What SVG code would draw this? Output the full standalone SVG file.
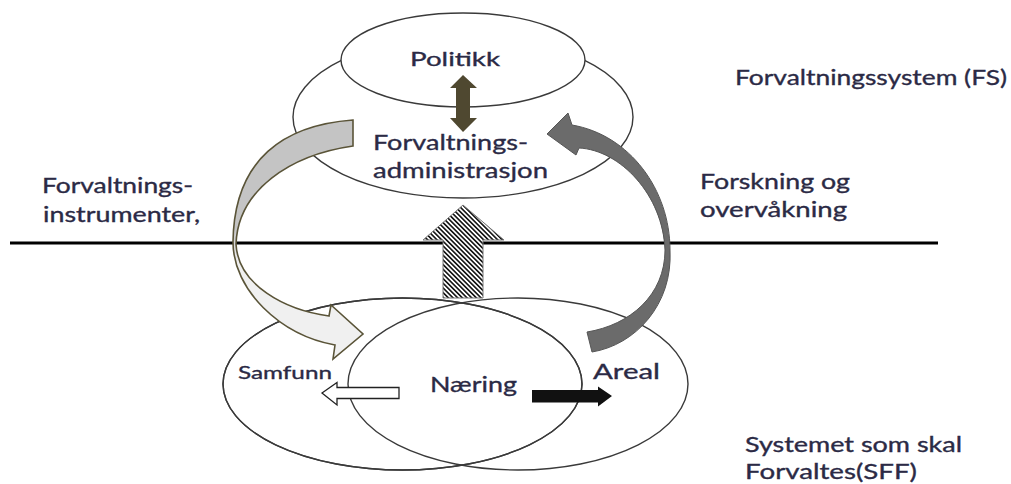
<svg xmlns="http://www.w3.org/2000/svg" width="1011" height="484" viewBox="0 0 1011 484">
<style>
.ell{fill:#fff;stroke:#3a3a3a;stroke-width:1.4}
.ellnf{fill:none;stroke:#3a3a3a;stroke-width:1.4}
.t{font-family:Lato,"Liberation Sans",sans-serif;fill:#2b2a45;stroke:#2b2a45;stroke-width:0.35}
</style>
<defs>
<pattern id="hatch" patternUnits="userSpaceOnUse" width="3.3" height="3.3" patternTransform="rotate(-45)">
<rect width="3.3" height="3.3" fill="#fff"/>
<line x1="0.8" y1="0" x2="0.8" y2="3.3" stroke="#111" stroke-width="1.6"/>
</pattern>
<linearGradient id="lgrad" gradientUnits="userSpaceOnUse" x1="0" y1="228" x2="0" y2="262">
<stop offset="0" stop-color="#c4c4c4"/>
<stop offset="1" stop-color="#f0f0f0"/>
</linearGradient>
</defs>
<rect width="1011" height="484" fill="#fff"/>

<g id="bottom-left-ellipse"><ellipse class="ell" cx="402.5" cy="384" rx="179.5" ry="86"/></g>
<g id="bottom-right-ellipse"><ellipse class="ellnf" cx="518" cy="384" rx="170" ry="86"/></g>
<g id="bottom-left-ellipse-outline"><ellipse class="ellnf" cx="402.5" cy="384" rx="179.5" ry="86"/></g>

<g id="forvaltningsadministrasjon"><ellipse class="ell" cx="463" cy="117" rx="170" ry="81"/></g>
<g id="politikk"><ellipse class="ell" cx="463" cy="60" rx="122" ry="47"/>
<text class="t" x="455" y="66" font-size="20" text-anchor="middle" textLength="90" lengthAdjust="spacingAndGlyphs">Politikk</text></g>

<g id="divider"><line x1="10" y1="243" x2="938" y2="243" stroke="#000" stroke-width="3"/></g>

<g id="connectors">
<path d="M463,75 L477,88 L470,88 L470,118 L477,118 L463,132 L450,118 L456,118 L456,88 L450,88 Z" fill="#4f4830"/>
<path d="M443,298 L443,240 L423,240 L463,205 L504,240 L483,240 L483,298 Z" fill="url(#hatch)" stroke="#777" stroke-width="1"/>
<path d="M353,120 C285,125 234,158 233,242 C233,290 280,335 335,345 L333,359 L363,334 L331,305 L329,316 C285,310 238,285 236,244 C238,190 290,155 353,146 Z" fill="url(#lgrad)" stroke="#5a5438" stroke-width="1.6" stroke-linejoin="miter"/>
<path d="M587,332 L592,352 C635,345 673,305 670,250 C670,190 630,135 572,125 L568,113 L547,134 L576,155 L579,148 C620,150 663,195 665,250 C665,295 630,325 587,332 Z" fill="#6b6b6b" stroke="#555" stroke-width="1"/>
<path d="M399,387.5 L337,387.5 L337,382.5 L322,393 L337,405 L337,398.5 L399,398.5 Z" fill="#fff" stroke="#222" stroke-width="1.3"/>
<path d="M532,390 L598,390 L598,386.5 L612,396 L598,406.5 L598,402.5 L532,402.5 Z" fill="#111"/>
</g>

<g id="labels">
<text class="t" x="373" y="150" font-size="22" textLength="155" lengthAdjust="spacingAndGlyphs">Forvaltnings-</text>
<text class="t" x="373" y="178" font-size="22" textLength="175" lengthAdjust="spacingAndGlyphs">administrasjon</text>
<text class="t" x="735" y="85" font-size="22" textLength="272" lengthAdjust="spacingAndGlyphs">Forvaltningssystem (FS)</text>
<text class="t" x="42" y="193" font-size="21" textLength="151" lengthAdjust="spacingAndGlyphs">Forvaltnings-</text>
<text class="t" x="43" y="222" font-size="21" textLength="157" lengthAdjust="spacingAndGlyphs">instrumenter,</text>
<text class="t" x="700" y="189" font-size="21" textLength="150" lengthAdjust="spacingAndGlyphs">Forskning og</text>
<text class="t" x="700" y="217" font-size="21" textLength="147" lengthAdjust="spacingAndGlyphs">overvåkning</text>
<text class="t" x="238" y="379" font-size="18" textLength="94" lengthAdjust="spacingAndGlyphs">Samfunn</text>
<text class="t" x="430" y="392" font-size="22" textLength="87" lengthAdjust="spacingAndGlyphs">Næring</text>
<text class="t" x="593" y="379" font-size="22" textLength="67" lengthAdjust="spacingAndGlyphs">Areal</text>
<text class="t" x="745" y="452" font-size="21" textLength="217" lengthAdjust="spacingAndGlyphs">Systemet som skal</text>
<text class="t" x="745" y="479" font-size="21" textLength="172" lengthAdjust="spacingAndGlyphs">Forvaltes(SFF)</text>
</g>
</svg>
